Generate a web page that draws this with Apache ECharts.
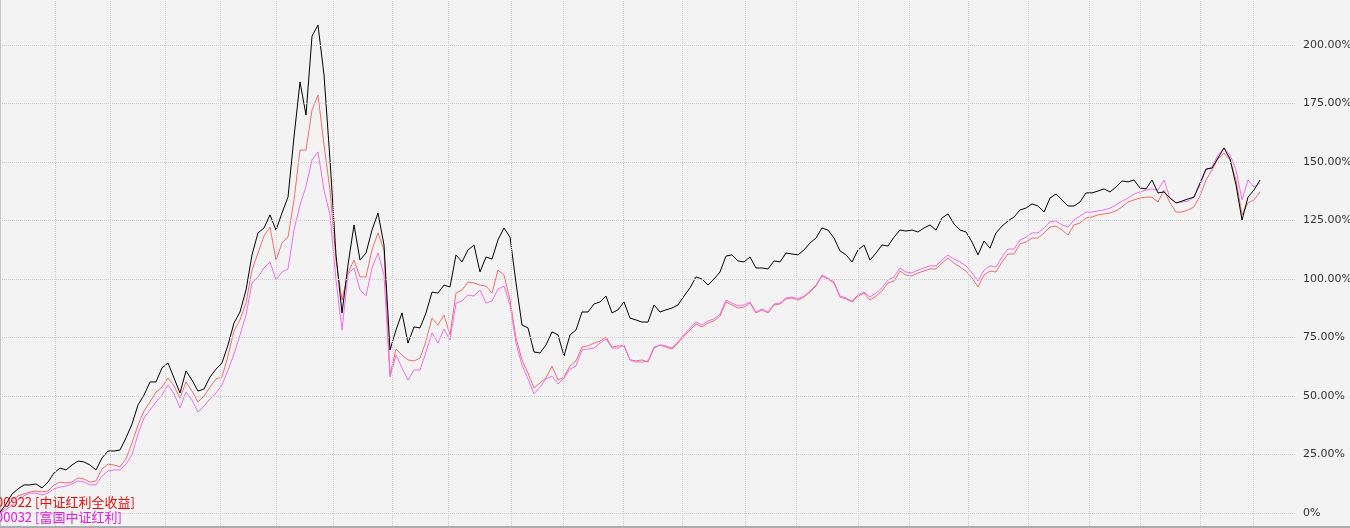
<!DOCTYPE html>
<html><head><meta charset="utf-8">
<script src="https://cdn.jsdelivr.net/npm/echarts@6/dist/echarts.min.js"></script>
<style>html,body{margin:0;padding:0;background:#f3f3f3;}#c{width:1350px;height:528px;}</style>
</head><body><div id="c"></div>
<script>
// trading-day index 0..210, values in %
const blackVals=[0.4,3.8,8.1,10.3,12.0,12.0,12.4,10.7,13.2,17.1,
19.2,18.4,20.5,22.2,21.8,20.5,18.4,23.5,26.5,26.5,
26.9,32.1,38.0,46.2,50.4,56.0,56.0,62.0,64.1,57.7,
51.3,60.7,56.8,52.1,53.0,58.1,61.5,64.1,71.8,81.2,
85.9,95.3,110.3,119.7,121.8,127.4,120.9,128.2,135.0,160.7,
184.2,170.1,203.8,208.5,187.2,150.9,110.3,85.5,106.0,123.1,
108.1,111.1,120.9,128.2,114.5,69.7,78.2,85.5,72.6,79.5,
79.1,85.5,94.4,94.0,97.4,96.6,110.3,107.3,112.4,114.5,
103.0,109.4,108.5,116.7,121.8,117.9,98.3,80.3,79.1,68.8,
68.4,71.8,77.4,76.1,67.1,76.1,78.2,85.9,85.9,89.3,
90.2,92.7,85.5,86.8,90.2,83.3,82.5,81.6,81.6,88.9,
85.9,86.8,87.6,88.9,92.7,96.2,100.9,100.0,97.4,100.0,
103.0,109.8,110.3,107.7,107.3,109.4,104.7,104.7,104.3,107.7,
107.3,111.1,110.7,110.3,112.4,115.4,117.5,121.8,120.9,117.5,
112.0,110.3,107.3,112.4,114.5,108.1,111.1,114.5,114.1,117.9,
120.9,120.5,120.9,120.1,121.8,123.1,120.9,126.1,127.8,123.5,
120.9,120.1,115.8,110.3,116.2,113.2,119.7,122.6,124.8,126.5,
129.5,130.3,132.1,131.2,128.6,134.6,136.3,133.8,131.2,131.2,
132.9,136.8,136.8,137.6,138.5,137.2,139.3,141.9,141.5,142.3,
138.9,138.5,142.3,136.8,137.2,134.6,132.5,133.3,134.2,135.0,
141.0,147.0,147.4,151.7,156.0,151.3,140.2,125.2,135.0,138.0,
142.3];
const redVals=[0.0,2.6,5.1,7.3,8.1,9.0,9.4,9.0,9.4,12.0,
13.2,12.8,13.2,15.0,14.5,13.2,13.7,18.8,20.9,20.5,
19.7,23.1,29.9,37.6,43.6,47.4,51.7,53.8,57.7,54.3,
49.1,56.0,52.1,47.4,50.0,53.8,57.3,58.1,67.1,77.8,
82.5,89.7,103.8,111.1,118.4,122.2,108.1,115.4,117.9,133.8,
155.1,155.1,172.2,178.6,157.3,138.0,108.1,91.0,102.6,108.1,
100.9,100.9,112.4,119.7,112.4,59.0,70.1,67.5,65.4,65.0,
66.2,73.5,83.3,80.3,84.6,76.1,94.0,95.3,98.7,98.3,
97.4,97.0,94.0,103.8,101.7,91.0,74.8,65.4,59.8,53.4,
55.6,57.7,62.8,56.8,58.1,62.8,65.0,70.9,71.4,72.6,
73.5,75.2,70.9,71.4,71.4,65.4,65.0,65.4,64.5,70.5,
71.8,70.9,70.1,72.6,75.6,78.2,80.8,79.5,81.2,82.1,
84.2,90.2,88.9,87.6,88.0,89.7,85.5,86.8,85.5,88.9,
89.3,91.5,91.9,91.0,92.3,94.4,97.0,101.3,100.0,98.3,
92.3,91.5,90.2,92.7,94.0,91.0,92.7,94.9,98.3,99.1,
103.4,101.7,101.3,102.6,103.4,104.3,104.3,106.8,109.0,106.8,
105.1,103.4,100.4,96.6,101.7,103.4,103.0,107.3,110.7,110.7,
115.0,115.8,117.5,117.5,119.7,122.2,122.6,120.9,118.8,123.1,
123.9,126.1,126.5,127.4,127.8,128.2,129.1,130.8,132.9,133.8,
134.6,135.0,135.0,132.9,138.0,132.5,128.6,128.6,129.5,130.8,
135.5,142.3,146.6,151.3,153.8,150.9,142.3,127.4,132.5,133.8,
137.2];
const magentaVals=[0.0,1.3,3.4,5.6,7.3,8.5,8.5,7.7,8.5,10.3,
11.1,11.5,12.4,13.7,13.2,12.0,12.0,15.8,17.9,18.4,
18.4,20.9,24.8,33.8,40.6,44.0,47.4,50.4,54.7,50.9,
44.9,51.7,48.3,43.2,45.7,48.7,51.3,54.7,61.1,67.9,
76.1,84.6,98.3,100.9,104.7,107.3,99.6,103.0,104.3,120.9,
131.6,139.7,150.9,154.3,138.0,127.4,99.6,78.2,102.1,104.7,
95.3,92.7,104.7,111.1,101.7,58.1,67.5,62.0,56.8,61.1,
61.1,68.8,76.9,72.6,78.6,73.9,89.7,90.6,93.2,92.7,
95.3,89.7,90.6,95.7,97.0,88.9,72.6,63.2,57.3,50.9,
53.8,57.3,58.5,55.1,57.7,61.5,62.8,69.7,70.1,70.5,
72.6,74.4,70.5,70.5,71.8,65.4,64.5,64.5,65.0,70.9,
71.8,71.4,70.5,73.1,76.1,79.1,81.6,80.3,82.1,82.9,
85.0,91.0,89.7,88.5,88.9,90.2,85.9,87.2,85.9,89.3,
89.7,91.9,92.3,91.5,92.7,94.9,97.4,101.7,100.4,98.7,
92.7,91.9,90.6,93.2,94.4,92.3,94.0,96.2,99.6,100.9,
104.7,103.0,102.6,103.8,104.7,105.6,105.6,108.1,110.3,108.5,
107.3,105.6,102.6,99.1,103.8,105.6,105.1,109.4,112.8,112.8,
116.7,117.9,119.7,119.7,121.8,124.4,124.8,123.1,122.2,125.2,
126.9,128.6,128.6,129.1,129.5,130.3,131.6,133.3,134.6,136.3,
137.2,138.0,138.5,138.0,142.3,134.6,132.5,132.9,133.3,135.0,
140.2,146.6,147.9,153.0,156.0,153.0,146.6,133.8,142.3,139.3,
141.0];
// vertical grid (period boundaries) in trading-day index units
const gridTicks=[9.2,18.3,27.5,36.7,46.0,55.5,65.3,74.7,85.2,93.8,103.8,113.7,124.2,132.7,143.0,151.5,161.3,171.3,181.5,190.0,200.0,208.8];
const yTicks=[0,25,50,75,100,125,150,175,200];
const legendRed='00922 [中证红利全收益]';
const legendMagenta='00032 [富国中证红利]';

const toPairs=a=>a.map((v,i)=>[i,v]);
const gridStyle={color:'#d0d0d0',type:'dotted',width:1};
const chart=echarts.init(document.getElementById('c'),null,{renderer:'canvas'});
chart.setOption({
  backgroundColor:'#f3f3f3',
  animation:false,
  grid:{left:0,right:54,top:0,bottom:2,outerBoundsMode:'none',containLabel:false},
  xAxis:{type:'value',min:0,max:216,show:false,splitLine:{show:false}},
  yAxis:{type:'value',position:'right',min:-5.56,max:219.23,
    axisLine:{show:true,lineStyle:{color:'#c4c4c4',width:1}},
    axisTick:{show:true,length:5,customValues:yTicks,lineStyle:{color:'#c8c8c8',type:'dotted'}},
    axisLabel:{margin:7,color:'#333',fontSize:11,fontFamily:'DejaVu Sans',customValues:yTicks,
      formatter:v=>v===0?'0%':v.toFixed(2)+'%'},
    splitLine:{show:false}
  },
  series:[
    {name:'中证红利全收益',type:'line',data:toPairs(redVals),symbol:'none',lineStyle:{color:'#f26d6d',width:1},itemStyle:{color:'#f26d6d'},z:2,
      markLine:{silent:true,symbol:'none',label:{show:false},animation:false,
        lineStyle:gridStyle,
        data:gridTicks.map(x=>({xAxis:x})).concat(yTicks.map(y=>({yAxis:y})))}},
    {name:'富国中证红利',type:'line',data:toPairs(magentaVals),symbol:'none',lineStyle:{color:'#f06ef0',width:1},itemStyle:{color:'#f06ef0'},z:3},
    {name:'指数',type:'line',data:toPairs(blackVals),symbol:'none',lineStyle:{color:'#000000',width:1},itemStyle:{color:'#000'},z:4}
  ],
  graphic:[
    {type:'rect',shape:{x:0,y:526,width:1350,height:2},style:{fill:'#a9adb3'},z:10},
    {type:'text',left:-4,top:496,style:{text:legendRed,fill:'#e01010',font:'13px "Noto Sans CJK SC"'},z:20},
    {type:'text',left:-4,top:511,style:{text:legendMagenta,fill:'#e020e0',font:'13px "Noto Sans CJK SC"'},z:20}
  ]
});
</script></body></html>
